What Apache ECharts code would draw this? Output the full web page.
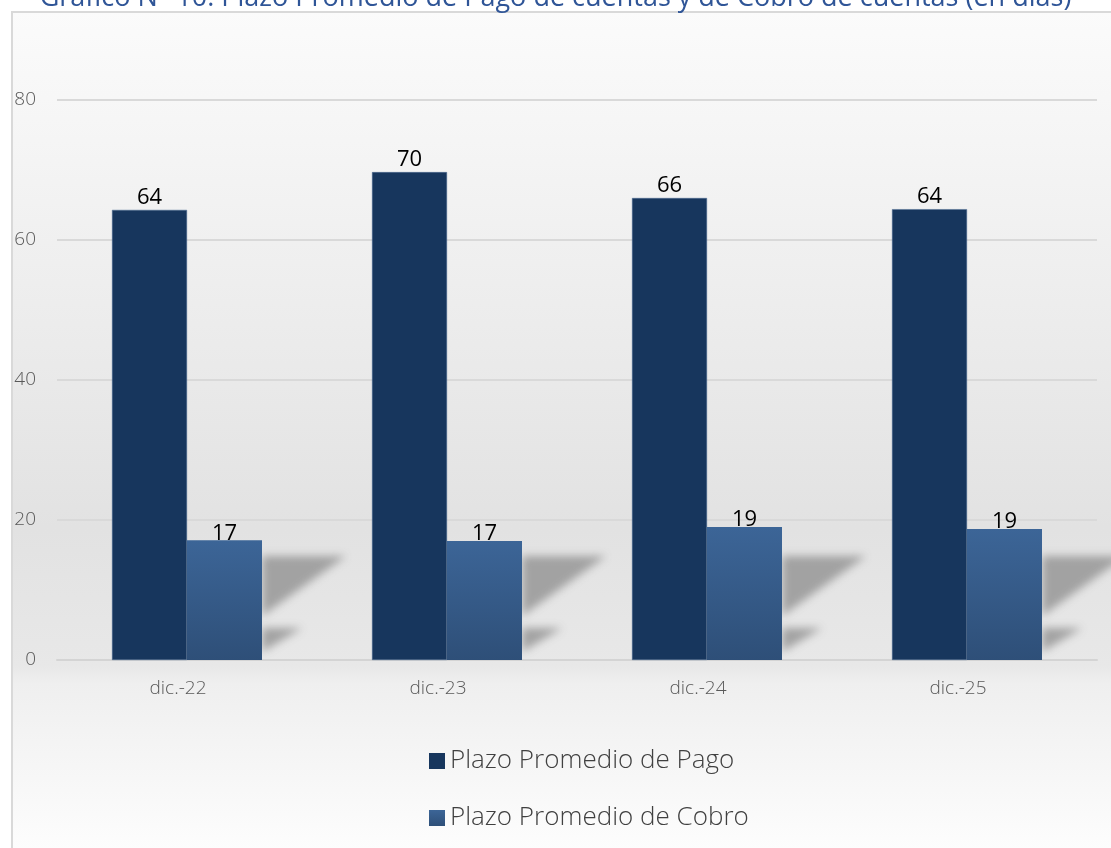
<!DOCTYPE html>
<html>
<head>
<meta charset="utf-8">
<script src="https://cdn.jsdelivr.net/npm/echarts@6/dist/echarts.min.js"></script>
<style>
html, body { margin: 0; padding: 0; background: #fff; }
#chart { width: 1111px; height: 848px; }
</style>
</head>
<body>
<div id="chart"></div>
<script>
// datos
var periodos = ['dic.-22', 'dic.-23', 'dic.-24', 'dic.-25'];
var plazoPago = [64.3, 69.7, 66.0, 64.4];
var plazoCobro = [17.1, 17.0, 19.0, 18.7];
var etiquetasPago = [64, 70, 66, 64];
var etiquetasCobro = [17, 17, 19, 19];
var ejeY = [0, 20, 40, 60, 80];

var fuente = '"Open Sans", "Noto Sans", sans-serif';
var chartDom = document.getElementById('chart');
var myChart = echarts.init(chartDom);

// sombra difusa detras de cada barra de cobro (se dibuja fuera y se trae con el offset de la sombra)
var desplaza = 3000;
function renderSombra(params, api) {
    var base = api.coord([api.value(0), 0]);
    var x0 = base[0] + 75 - desplaza;
    var y0 = base[1];
    var sombra = {
        fill: '#999',
        shadowBlur: 9,
        shadowOffsetX: desplaza,
        shadowColor: 'rgba(150,150,150,0.85)'
    };
    return {
        type: 'group',
        children: [{
            type: 'polygon',
            shape: { points: [[x0, y0 - 104], [x0 + 84, y0 - 104], [x0, y0 - 44]] },
            style: sombra
        }, {
            type: 'polygon',
            shape: { points: [[x0, y0 - 32], [x0 + 40, y0 - 32], [x0, y0 - 8]] },
            style: sombra
        }]
    };
}

var option = {
    animation: false,
    textStyle: { fontFamily: fuente },
    graphic: [{
        type: 'rect',
        left: 11, top: 11,
        shape: { width: 1120, height: 860 },
        z: -10,
        style: {
            stroke: '#d9d9d9',
            lineWidth: 2,
            fill: new echarts.graphic.LinearGradient(0, 0, 0, 1, [
                { offset: 0, color: '#fbfbfb' },
                { offset: 0.15, color: '#f5f5f5' },
                { offset: 0.6, color: '#e2e2e2' },
                { offset: 0.76, color: '#e8e8e8' },
                { offset: 0.78, color: '#efefef' },
                { offset: 1, color: '#ffffff' }
            ])
        }
    }],
    title: {
        text: 'Gráfico N° 10: Plazo Promedio de Pago de cuentas y de Cobro de cuentas (en días)',
        left: 'center',
        top: -20,
        textStyle: { color: '#2f5597', fontSize: 27, fontWeight: 'normal', fontFamily: fuente }
    },
    legend: {
        orient: 'vertical',
        left: 424,
        top: 743,
        itemWidth: 16,
        itemHeight: 16,
        itemGap: 31,
        icon: 'rect',
        itemStyle: { borderWidth: 0 },
        textStyle: { fontSize: 26, color: '#404040', fontWeight: 300, fontFamily: fuente },
        data: ['Plazo Promedio de Pago', 'Plazo Promedio de Cobro']
    },
    grid: { left: 57, right: 14, top: 100, bottom: 188 },
    xAxis: {
        type: 'category',
        data: periodos,
        axisTick: { show: false },
        axisLine: { lineStyle: { color: '#d4d4d4', width: 2 } },
        axisLabel: { color: '#595959', fontSize: 19, fontWeight: 300, margin: 19, padding: [0, 18, 0, 0], fontFamily: fuente }
    },
    yAxis: {
        type: 'value',
        min: 0,
        max: 80,
        interval: 20,
        axisLine: { show: false },
        axisTick: { show: false },
        splitLine: { lineStyle: { color: '#d9d9d9', width: 2 } },
        axisLabel: {
            color: '#595959', fontSize: 19, fontWeight: 300, margin: 21, fontFamily: fuente,
            formatter: function (v) { return ejeY.indexOf(v) >= 0 ? v : ''; }
        }
    },
    series: [{
        name: 'Plazo Promedio de Pago',
        type: 'bar',
        barWidth: 75,
        barGap: '0%',
        data: plazoPago,
        itemStyle: { color: '#17365d', borderColor: '#4a6a93', borderWidth: 0.5 },
        label: {
            show: true, position: 'top', distance: 1,
            color: '#000', fontSize: 22, fontFamily: fuente,
            formatter: function (p) { return etiquetasPago[p.dataIndex]; }
        },
        z: 3
    }, {
        name: 'Plazo Promedio de Cobro',
        type: 'bar',
        barWidth: 75,
        data: plazoCobro,
        itemStyle: {
            color: new echarts.graphic.LinearGradient(0, 0, 0, 1, [
                { offset: 0, color: '#3c6597' },
                { offset: 1, color: '#2e4f78' }
            ])
        },
        label: {
            show: true, position: 'top', distance: -4,
            color: '#000', fontSize: 22, fontFamily: fuente,
            formatter: function (p) { return etiquetasCobro[p.dataIndex]; }
        },
        z: 3
    }, {
        name: 'sombra',
        type: 'custom',
        renderItem: renderSombra,
        data: periodos.map(function (p, i) { return [i]; }),
        silent: true,
        clip: false,
        z: 1
    }]
};

option && myChart.setOption(option);
</script>
</body>
</html>
